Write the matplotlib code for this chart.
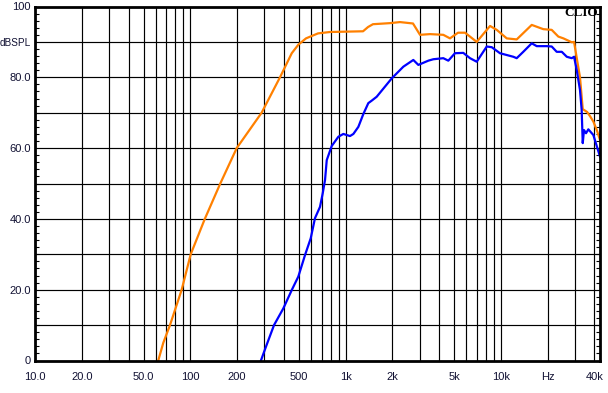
import matplotlib
matplotlib.use("Agg")
import matplotlib.pyplot as plt
from matplotlib.ticker import FixedLocator, NullFormatter

# ---- data ----
orange_freq = [62.2, 67.0, 74.0, 88.0, 100.6, 124, 156, 199, 288, 378, 450, 496, 556, 664, 794,
               1016, 1295, 1394, 1500, 1932, 2239, 2716, 3013, 3494, 4256, 4700, 5297, 5875,
               6985, 8511, 9400, 10900, 12640, 15790, 18750, 21230, 23430, 25240, 28580, 29580,
               30900, 32300, 33640, 35900, 37500, 39370, 41500, 43450]
orange_db = [0, 5, 10, 20, 30, 40, 50, 60, 70, 80, 86.8, 89.2, 91.0, 92.4, 92.8,
             92.9, 93.0, 94.2, 95.0, 95.3, 95.6, 95.2, 92.0, 92.2, 92.0, 91.0, 92.6, 92.6,
             90.0, 94.5, 93.4, 91.0, 90.7, 94.8, 93.6, 93.4, 91.5, 91.0, 89.9, 90.0,
             85.0, 80.0, 71.0, 70.2, 69.0, 67.5, 65.0, 62.3]

blue_freq = [285, 307, 346, 397, 450, 496, 548, 596, 635, 684, 712, 737, 756, 814, 898, 967,
             1067, 1122, 1208, 1300, 1400, 1472, 1585, 1982, 2354, 2729, 2940, 3410, 3670,
             4256, 4584, 5060, 5725, 6324, 6985, 8106, 8730, 9863, 12020, 12640, 13930, 15790,
             17010, 19730, 21230, 22870, 24660, 26550, 28580, 29580, 30760, 32300, 33110,
             33640, 34280, 35320, 36550, 39370, 43450]
blue_db = [0, 3.9, 10, 14.7, 19.9, 23.7, 29.8, 34.5, 40.2, 43.4, 47.2, 51, 56.6, 60.6, 63.2, 64.0,
           63.4, 64.0, 66.0, 69.6, 72.7, 73.4, 74.5, 79.7, 83.0, 84.9, 83.5, 84.7, 85.1,
           85.4, 84.7, 86.8, 86.9, 85.4, 84.4, 88.7, 88.5, 86.8, 85.8, 85.4, 87.2, 89.6,
           88.8, 88.8, 88.7, 87.2, 87.2, 85.8, 85.4, 85.8, 82.1, 76.4, 70.8,
           61.4, 65.1, 64.2, 65.3, 63.7, 57.6]

x_tick_vals = [10, 20, 50, 100, 200, 500, 1000, 2000, 5000, 10000, 20000, 40000]
x_tick_labels = ["10.0", "20.0", "50.0", "100", "200", "500", "1k", "2k", "5k", "10k", "Hz", "40k"]
y_tick_vals = [0, 20, 40, 60, 80, 90, 100]
y_tick_labels = ["0", "20.0", "40.0", "60.0", "80.0", "dBSPL", "100"]

# ---- figure ----
W, H = 608, 393
fig = plt.figure(figsize=(W / 100, H / 100), dpi=100)
fig.patch.set_facecolor("white")
ax = fig.add_axes([35 / W, 1 - 360.5 / H, (600 - 35) / W, (360.5 - 6.5) / H])

ax.set_xscale("log")
ax.set_xlim(10, 43450)
ax.set_ylim(0, 100)

# grid
grid_x = [m * 10 ** e for e in range(1, 5) for m in range(1, 10) if m * 10 ** e <= 40000]
for gx in grid_x:
    ax.axvline(gx, color="black", lw=0.85, zorder=1)
for gy in range(10, 100, 10):
    ax.axhline(gy, color="black", lw=0.85, zorder=1)

ax.plot(orange_freq, orange_db, color="#FF8000", lw=1.6, zorder=3, clip_on=True)
ax.plot(blue_freq, blue_db, color="#0000FF", lw=1.6, zorder=4, clip_on=True)

# ticks
ax.xaxis.set_major_locator(FixedLocator(x_tick_vals))
ax.set_xticklabels(x_tick_labels)
ax.xaxis.set_minor_locator(FixedLocator([]))
ax.xaxis.set_minor_formatter(NullFormatter())
ax.tick_params(axis="x", which="both", length=0, pad=8, labelsize=8)

ax.yaxis.set_major_locator(FixedLocator(y_tick_vals))
ax.set_yticklabels(y_tick_labels)
ax.yaxis.set_minor_locator(FixedLocator([v for v in range(0, 101, 2)]))
ax.tick_params(axis="y", which="major", length=0, pad=3, labelsize=8)
ax.tick_params(axis="y", which="minor", direction="in", length=3, width=0.8,
               left=True, right=True, color="black")

for lab in ax.get_xticklabels() + ax.get_yticklabels():
    lab.set_fontfamily("Liberation Sans")
    lab.set_color("#111133")
for lab in ax.get_yticklabels():
    if lab.get_text() == "dBSPL":
        lab.set_fontsize(7.2)

for sp in ax.spines.values():
    sp.set_linewidth(2.0)
    sp.set_color("black")
    sp.set_zorder(5)

fig.text(598 / W, 1 - 7.5 / H, "CLIO", ha="right", va="top", fontsize=9.5,
         fontweight="bold", family="Liberation Serif", color="black")

fig.savefig("out.png", dpi=100, facecolor="white")
